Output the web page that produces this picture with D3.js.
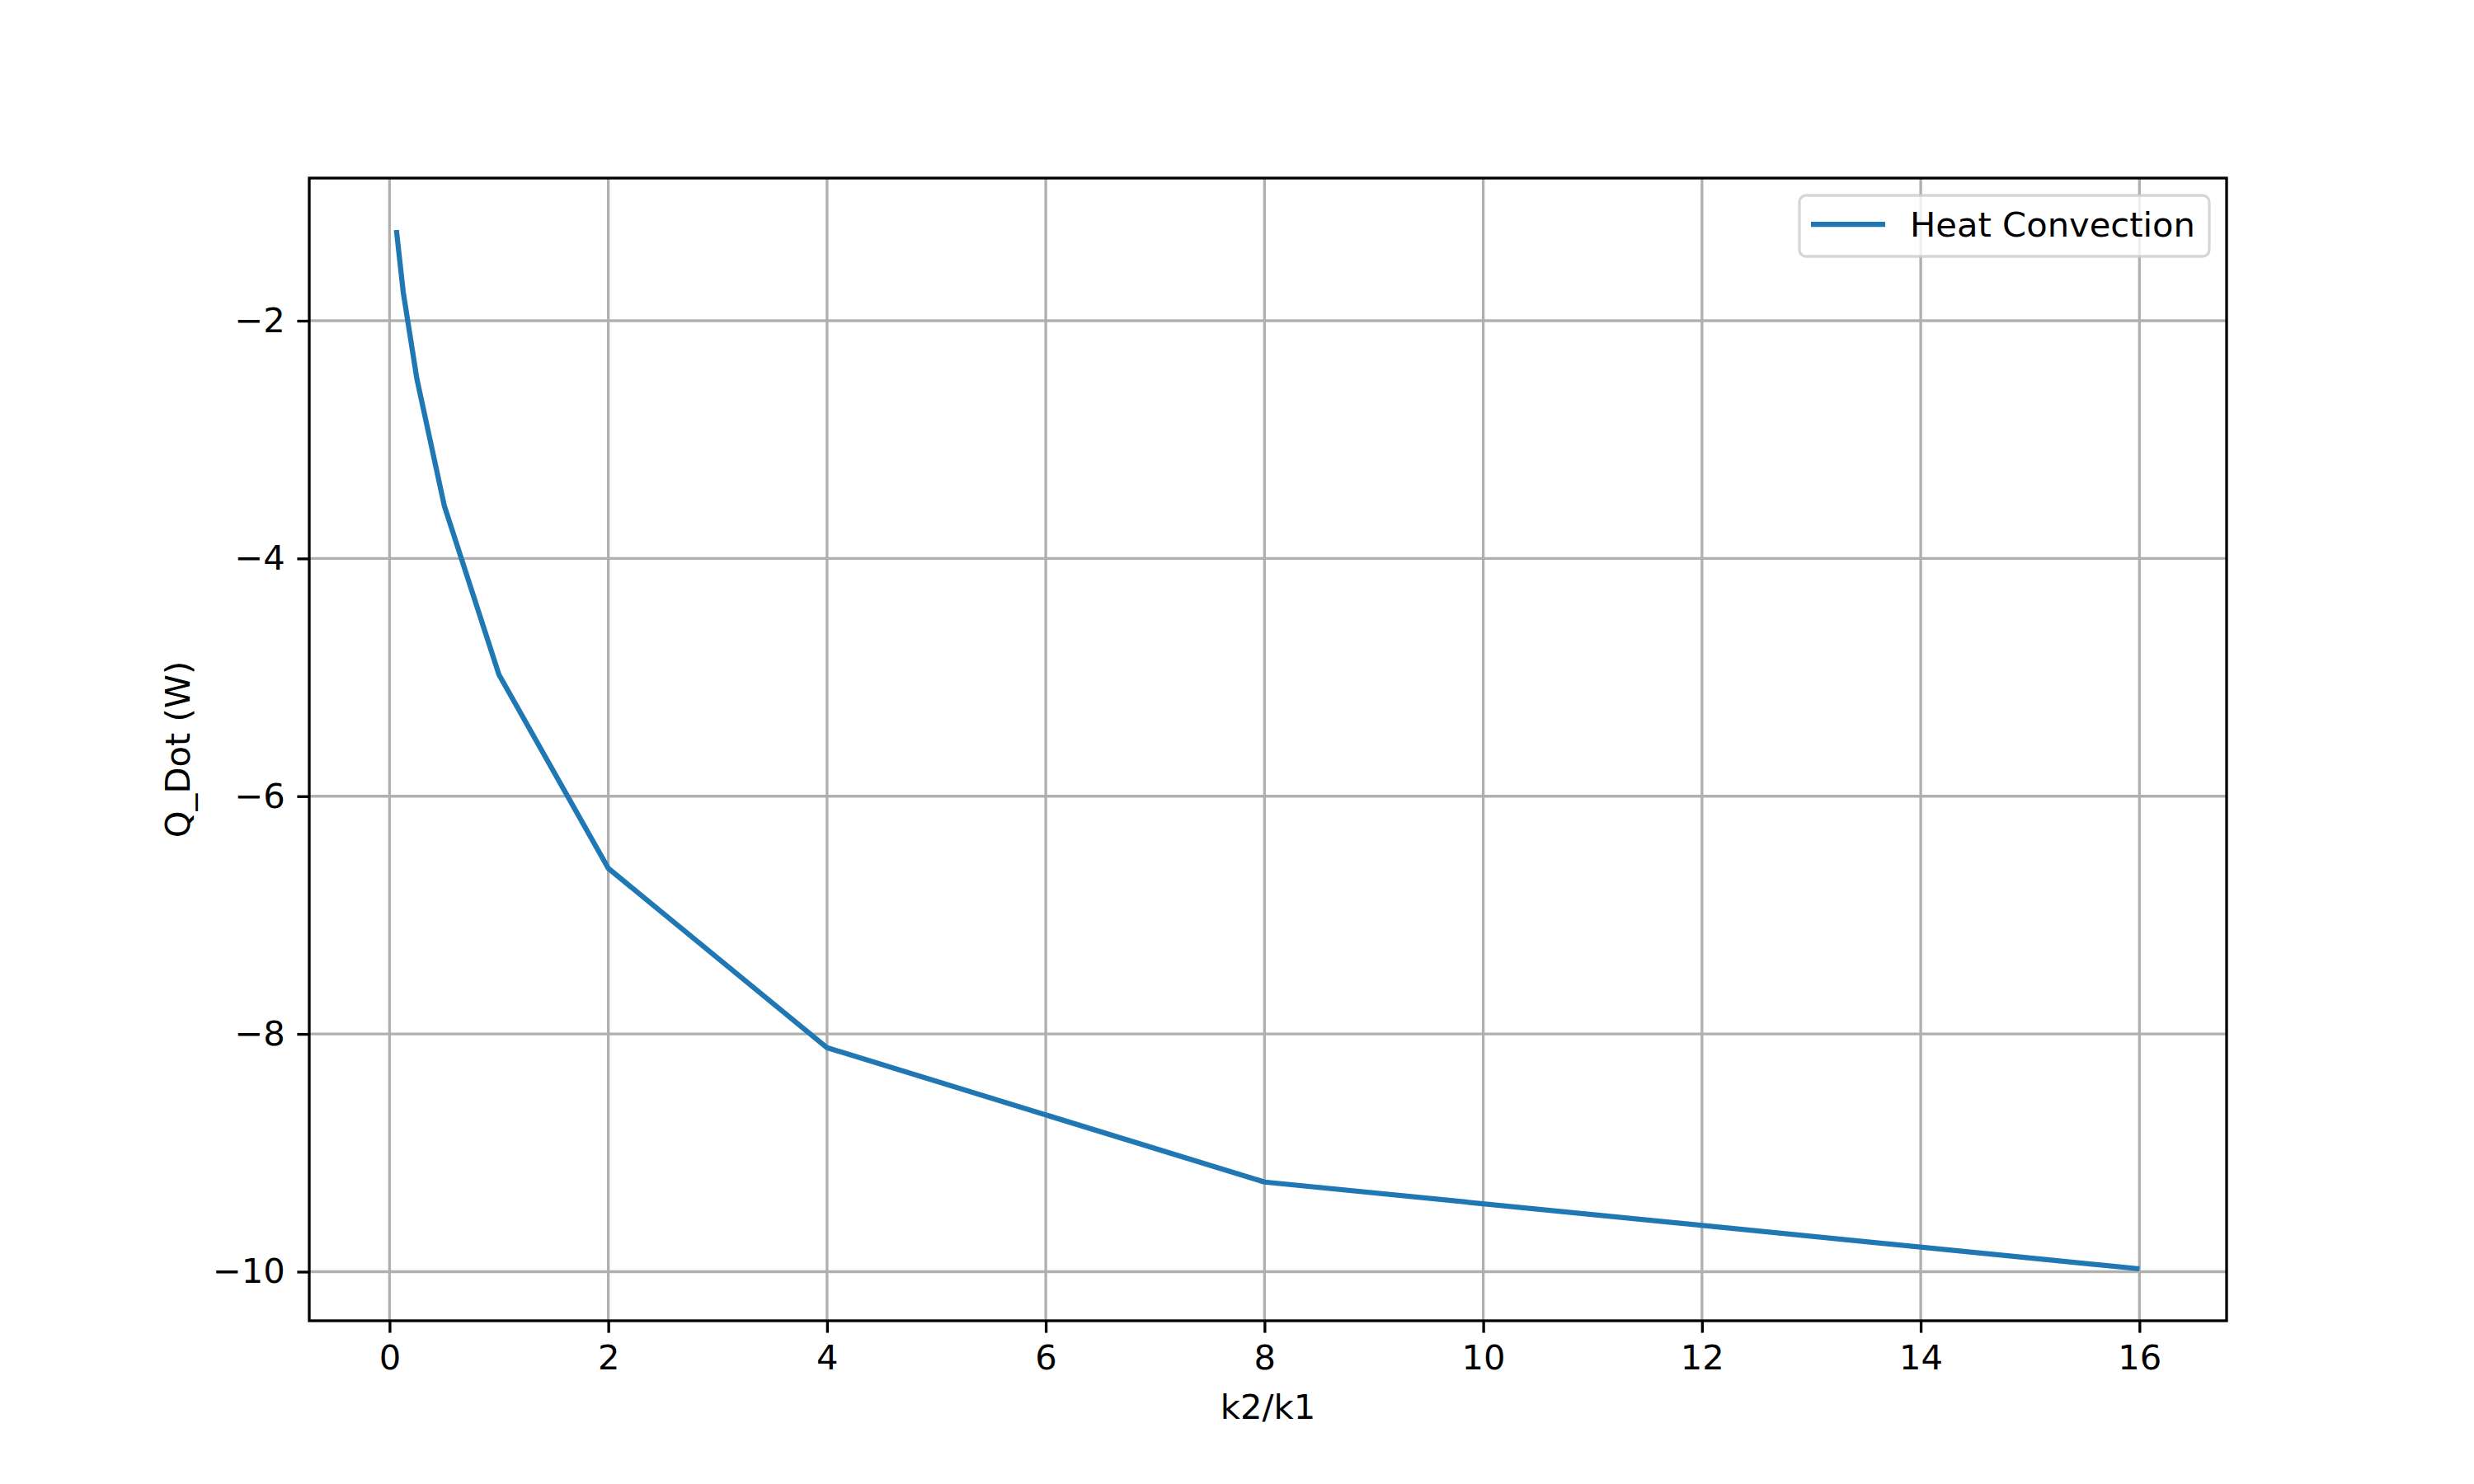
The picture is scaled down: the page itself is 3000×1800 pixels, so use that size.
<!DOCTYPE html>
<html>
<head>
<meta charset="utf-8">
<script src="https://cdn.jsdelivr.net/npm/d3@7"></script>
<style>
  html, body { margin: 0; padding: 0; background: #ffffff; }
  svg { display: block; }
  text { font-family: "DejaVu Sans", sans-serif; }
</style>
</head>
<body>
<svg id="chart" width="3000" height="1800"></svg>
<script>
// ---- data ----
const ratioK = [0.0625, 0.125, 0.25, 0.5, 1, 2, 4, 8, 16];
const heatConvection = [-1.237, -1.76, -2.49, -3.555, -4.977, -6.607, -8.116, -9.246, -9.976];
const xTicks = [0, 2, 4, 6, 8, 10, 12, 14, 16];
const yTicks = [-10, -8, -6, -4, -2];
const seriesName = "Heat Convection";
const xLabel = "k2/k1";
const yLabel = "Q_Dot (W)";

(function () {
  // ---- layout ----
  const W = 3000, H = 1800;
  const pL = 375, pR = 2700, pT = 216, pB = 1602;
  const fs = 41.67;
  const lw08 = 3.33;

  function padDomain(vals) {
    const mn = d3.min(vals), mx = d3.max(vals), r = mx - mn;
    return [mn - 0.05 * r, mx + 0.05 * r];
  }

  const x = d3.scaleLinear().domain(padDomain(ratioK)).range([pL, pR]);
  const y = d3.scaleLinear().domain(padDomain(heatConvection)).range([pB, pT]);

  const svg = d3.select("#chart");
  svg.append("rect").attr("width", W).attr("height", H).attr("fill", "#ffffff");

  const fmt = d => (d < 0 ? "\u2212" + Math.abs(d) : String(d));

  // grid
  const grid = svg.append("g");
  grid.selectAll("line.gx").data(xTicks).join("line").attr("class", "gx")
    .attr("x1", d => x(d)).attr("x2", d => x(d))
    .attr("y1", pT).attr("y2", pB)
    .attr("stroke", "#b0b0b0").attr("stroke-width", lw08);
  grid.selectAll("line.gy").data(yTicks).join("line").attr("class", "gy")
    .attr("y1", d => y(d)).attr("y2", d => y(d))
    .attr("x1", pL).attr("x2", pR)
    .attr("stroke", "#b0b0b0").attr("stroke-width", lw08);

  // series line
  const line = d3.line().x((d, i) => x(ratioK[i])).y(d => y(d));
  svg.append("path")
    .datum(heatConvection)
    .attr("d", line)
    .attr("fill", "none")
    .attr("stroke", "#1f77b4")
    .attr("stroke-width", 6.25)
    .attr("stroke-linejoin", "round")
    .attr("stroke-linecap", "butt");

  // axes
  const xAxis = d3.axisBottom(x).tickValues(xTicks).tickFormat(fmt).tickSize(14.6).tickPadding(14.6).tickSizeOuter(0);
  const yAxis = d3.axisLeft(y).tickValues(yTicks).tickFormat(fmt).tickSize(14.6).tickPadding(14.6).tickSizeOuter(0);

  const gx = svg.append("g").attr("transform", `translate(0,${pB})`).call(xAxis);
  const gy = svg.append("g").attr("transform", `translate(${pL},0)`).call(yAxis);
  [gx, gy].forEach(g => {
    g.select(".domain").remove();
    g.selectAll(".tick line").attr("stroke", "#000").attr("stroke-width", lw08);
    g.selectAll(".tick text").attr("fill", "#000").style("font-size", fs + "px")
      .style("font-family", "'DejaVu Sans', sans-serif");
  });

  // frame
  svg.append("rect")
    .attr("x", pL).attr("y", pT)
    .attr("width", pR - pL).attr("height", pB - pT)
    .attr("fill", "none").attr("stroke", "#000").attr("stroke-width", lw08);

  // axis labels
  svg.append("text")
    .attr("x", (pL + pR) / 2).attr("y", 1721)
    .attr("text-anchor", "middle")
    .style("font-size", fs + "px")
    .text(xLabel);

  svg.append("text")
    .attr("transform", `translate(230,${(pT + pB) / 2}) rotate(-90)`)
    .attr("text-anchor", "middle")
    .style("font-size", fs + "px")
    .text(yLabel);

  // legend
  const lg = svg.append("g");
  lg.append("rect")
    .attr("x", 2182).attr("y", 237)
    .attr("width", 2679 - 2182).attr("height", 311 - 237)
    .attr("rx", 8).attr("ry", 8)
    .attr("fill", "#ffffff").attr("fill-opacity", 0.8)
    .attr("stroke", "#cccccc").attr("stroke-opacity", 0.8).attr("stroke-width", lw08);
  lg.append("line")
    .attr("x1", 2196).attr("x2", 2286)
    .attr("y1", 272).attr("y2", 272)
    .attr("stroke", "#1f77b4").attr("stroke-width", 6.25);
  lg.append("text")
    .attr("x", 2316).attr("y", 287)
    .style("font-size", fs + "px")
    .text(seriesName);
})();
</script>
</body>
</html>
